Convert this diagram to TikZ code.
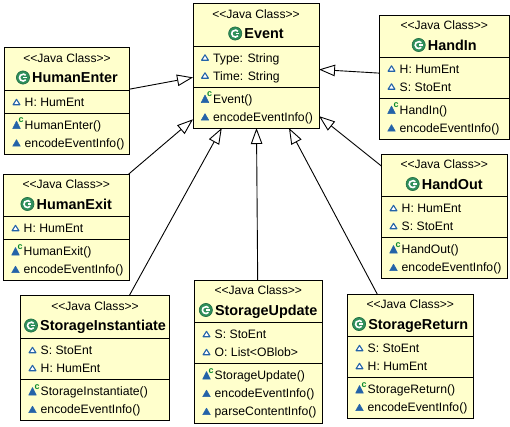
\documentclass[tikz,border=0pt]{standalone}
\usepackage{fontspec}
\setmainfont{Liberation Sans}
\usetikzlibrary{arrows.meta}
\definecolor{boxfill}{HTML}{FFFFCC}
\definecolor{iconblue}{HTML}{2463A8}
\definecolor{icongreen}{HTML}{2F8F5B}
\definecolor{icongreendark}{HTML}{1F6B42}
\definecolor{ctorgreen}{HTML}{0A8A2A}
\tikzset{
  classbody/.style={draw=black,fill=boxfill,line width=1pt,inner sep=0pt,outer sep=0pt,rectangle},
  stereo/.style={inner sep=0pt,anchor=base,font=\fontsize{12.1}{13}\selectfont},
  classname/.style={inner sep=0pt,anchor=base,font=\fontsize{14.4}{16}\selectfont\bfseries},
  member/.style={inner sep=0pt,anchor=base west,font=\fontsize{12.2}{14}\selectfont},
  ctormark/.style={inner sep=0pt,text=ctorgreen,font=\fontsize{9}{9}\selectfont\bfseries},
  divider/.style={draw=black,line width=1pt},
  generalize/.style={draw=black,line width=0.9pt,-{Triangle[length=16pt,width=11.5pt,fill=white]}},
}
% name, left, top, right, bottom, divider 1, divider 2, title
\newcommand{\classbox}[8]{%
  \def\boxname{#1}%
  \pgfmathsetmacro\cL{#2}%
  \pgfmathsetmacro\cT{#3}%
  \pgfmathsetmacro\dA{#6}%
  \pgfmathsetmacro\dB{#7}%
  \pgfmathsetmacro\cX{(#2+#4)/2}%
  \pgfmathsetmacro\cY{(#3+#5)/2}%
  \pgfmathsetmacro\cW{#4-#2}%
  \pgfmathsetmacro\cH{#5-#3}%
  \node[classbody,minimum width=\cW pt,minimum height=\cH pt] (#1) at (\cX,\cY) {};
  \draw[divider] (#1.west |- 0,\dA) -- (#1.east |- 0,\dA);
  \draw[divider] (#1.west |- 0,\dB) -- (#1.east |- 0,\dB);
  \pgfmathsetmacro\yS{#3+14.6}%
  \node[stereo] (#1-s) at (\cX,\yS) {<{}<Java Class>{}>};
  \pgfmathsetmacro\yT{#3+35.2}%
  \pgfmathsetmacro\xT{\cX+8}%
  \node[classname] (#1-t) at (\xT,\yT) {#8};
  \pgfmathsetmacro\yI{#3+30}%
  \begin{scope}[shift={(#1-t.west |- 0,\yI)},xshift=-9pt]
    \fill[icongreen,draw=icongreendark,line width=0.6pt] (0,0) circle (6.6);
    \draw[white,line width=1.6pt] (2.7,2.3) arc (40:320:3.5);
    \draw[white,line width=1.3pt] (0.4,0) -- (3.9,0);
  \end{scope}
}
\newcommand{\attr}[2]{%
  \pgfmathsetmacro\yM{\dA+11.6+18*(#1-1)}%
  \pgfmathsetmacro\xM{\cL+20}%
  \pgfmathsetmacro\yB{\yM+4.4}%
  \begin{scope}[shift={(\cL+12,\yM)}]
    \draw[iconblue,fill=white,line width=1.1pt,line join=round] (0,-2.8) -- (3.4,2.6) -- (-3.4,2.6) -- cycle;
  \end{scope}
  \node[member] (\boxname-a#1) at (\xM,\yB) {#2};
}
\newcommand{\method}[2]{%
  \pgfmathsetmacro\yM{\dB+12+18*(#1-1)}%
  \pgfmathsetmacro\xM{\cL+20}%
  \pgfmathsetmacro\yB{\yM+4.4}%
  \begin{scope}[shift={(\cL+12,\yM)}]
    \fill[iconblue,draw=iconblue,line width=0.5pt,line join=round] (0,-3.4) -- (3.8,3.2) -- (-3.8,3.2) -- cycle;
  \end{scope}
  \node[member] (\boxname-m#1) at (\xM,\yB) {#2};
}
\newcommand{\ctor}[1]{%
  \pgfmathsetmacro\yM{\dB+12}%
  \pgfmathsetmacro\xM{\cL+20}%
  \pgfmathsetmacro\yB{\yM+4.4}%
  \begin{scope}[shift={(\cL+12,\yM)}]
    \fill[iconblue,draw=iconblue,line width=0.5pt,line join=round] (0,-4) -- (3.8,3.6) -- (-3.8,3.6) -- cycle;
    \node[ctormark] (\boxname-c) at (4.6,-4.8) {c};
  \end{scope}
  \node[member] (\boxname-k) at (\xM,\yB) {#1};
}
\begin{document}
\begin{tikzpicture}[x=1pt,y=-1pt]
\useasboundingbox (0,0) rectangle (510,426);
\fill[white] (0,0) rectangle (510,426);

\classbox{event}{193}{3.5}{319}{128}{46}{87}{Event}
\attr{1}{Type: String}
\attr{2}{Time: String}
\ctor{Event()}
\method{2}{encodeEventInfo()}

\classbox{humanenter}{4.5}{47.5}{129.5}{154}{90.5}{113}{HumanEnter}
\attr{1}{H: HumEnt}
\ctor{HumanEnter()}
\method{2}{encodeEventInfo()}

\classbox{handin}{379.5}{15}{509}{139}{57}{98}{HandIn}
\attr{1}{H: HumEnt}
\attr{2}{S: StoEnt}
\ctor{HandIn()}
\method{2}{encodeEventInfo()}

\classbox{humanexit}{3.5}{174}{129}{280.5}{216.5}{239.5}{HumanExit}
\attr{1}{H: HumEnt}
\ctor{HumanExit()}
\method{2}{encodeEventInfo()}

\classbox{handout}{381.5}{154}{507}{278.5}{196.5}{237.5}{HandOut}
\attr{1}{H: HumEnt}
\attr{2}{S: StoEnt}
\ctor{HandOut()}
\method{2}{encodeEventInfo()}

\classbox{storageinstantiate}{20.5}{295.5}{169.5}{420.5}{338.5}{379.5}{StorageInstantiate}
\attr{1}{S: StoEnt}
\attr{2}{H: HumEnt}
\ctor{StorageInstantiate()}
\method{2}{encodeEventInfo()}

\classbox{storageupdate}{194.5}{280}{322}{423}{322.5}{363.5}{StorageUpdate}
\attr{1}{S: StoEnt}
\attr{2}{O: List<OBlob>}
\ctor{StorageUpdate()}
\method{2}{encodeEventInfo()}
\method{3}{parseContentInfo()}

\classbox{storagereturn}{347.5}{294}{473}{418.5}{336.5}{377.5}{StorageReturn}
\attr{1}{S: StoEnt}
\attr{2}{H: HumEnt}
\ctor{StorageReturn()}
\method{2}{encodeEventInfo()}

\draw[generalize] (humanenter) -- (event);
\draw[generalize] (handin) -- (event);
\draw[generalize] (humanexit) -- (event);
\draw[generalize] (handout) -- (event);
\draw[generalize] (storageinstantiate) -- (event);
\draw[generalize] (storageupdate) -- (event);
\draw[generalize] (storagereturn) -- (event);
\end{tikzpicture}
\end{document}
